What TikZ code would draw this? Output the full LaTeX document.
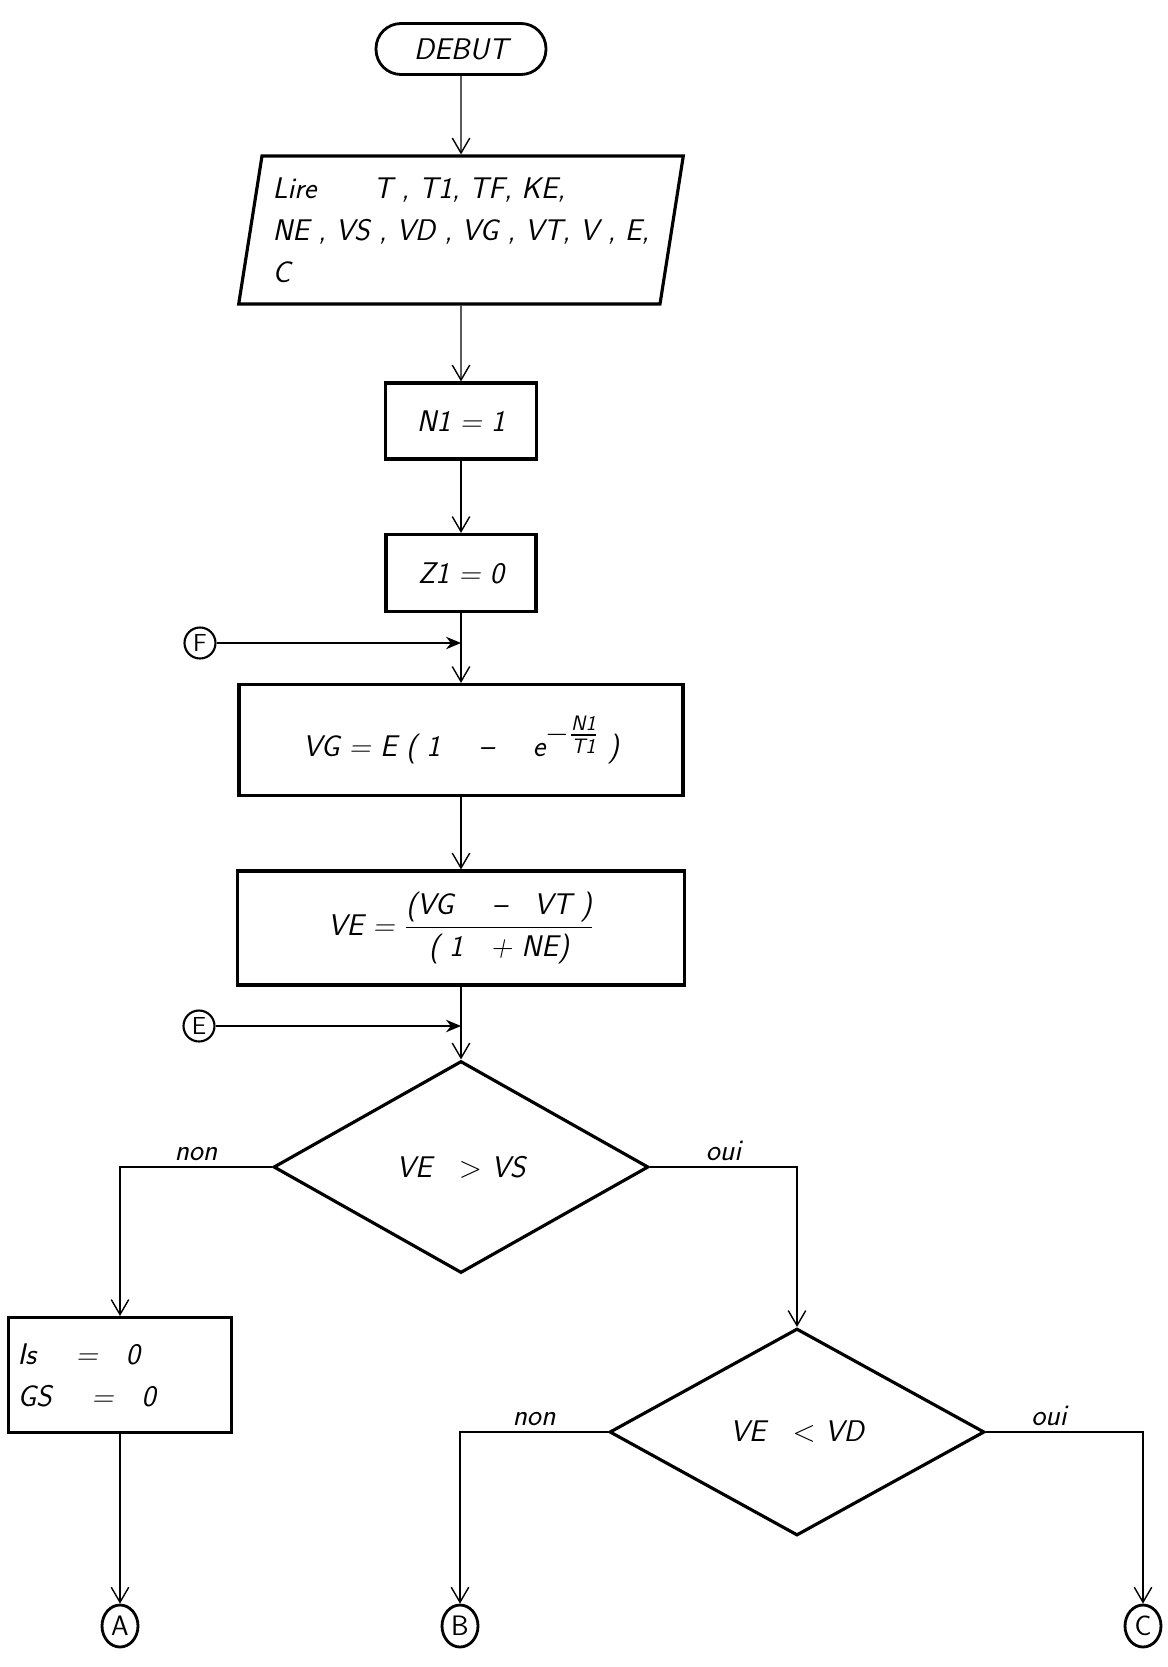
\documentclass[tikz,border=0pt]{standalone}
\usepackage{amsmath}
\usetikzlibrary{arrows.meta,shapes.geometric,positioning,calc}

\tikzset{
  term/.style={draw, line width=1.6pt, rectangle, rounded corners=0.5cm, minimum width=3.4cm, minimum height=1.02cm},
  io/.style={draw, line width=1.8pt, trapezium, trapezium left angle=79, trapezium right angle=101, trapezium stretches=true},
  box/.style={draw, line width=1.8pt, rectangle},
  test/.style={draw, line width=1.8pt, diamond},
  conn/.style={draw, line width=1.2pt, circle, inner sep=0pt, minimum size=0.62cm, font=\fontsize{14}{16}\selectfont\sffamily\upshape},
  ext/.style={draw, line width=1.6pt, ellipse, inner sep=0pt, minimum width=0.72cm, minimum height=0.84cm, font=\fontsize{16}{18}\selectfont\sffamily\upshape},
  link/.style={line width=0.8pt, -{Straight Barb[length=3mm,width=3.5mm]}},
  entry/.style={line width=0.8pt, -{Stealth[length=3mm,width=2.5mm]}}
}

\begin{document}
\begin{tikzpicture}[x=0.02cm, y=-0.02cm, every node/.style={font=\fontsize{17}{24}\selectfont\sffamily\slshape}]
\useasboundingbox (0,0) rectangle (1168,1667);

\node[term] (debut) at (461,49) {DEBUT};
\node[io, minimum width=8.9cm, minimum height=2.96cm, align=left] (lire) at (461,230)
  {Lire \quad\; T , T1, TF, KE,\\ NE , VS , VD , VG , VT, V , E,\\ C};
\node[box, minimum width=3.02cm, minimum height=1.52cm] (n1) at (461,421) {N1 = 1};
\node[box, minimum width=3.0cm, minimum height=1.54cm] (z1) at (461,573) {Z1 = 0};
\node[box, minimum width=8.88cm, minimum height=2.22cm] (vg) at (461,740)
  {VG = E ( 1 \quad -- \quad e$^{\textstyle -\frac{\text{N1}}{\text{T1}}}$ )};
\node[box, minimum width=8.94cm, minimum height=2.28cm] (ve) at (461,928)
  {VE = $\dfrac{\text{(VG \quad -- \; VT )}}{\text{( 1 \; + NE)}}$};
\node[test, minimum width=7.5cm, minimum height=4.24cm] (t1) at (461,1167) {VE \; $>$ VS};
\node[test, minimum width=7.5cm, minimum height=4.14cm] (t2) at (797,1432) {VE \; $<$ VD};
\node[box, minimum width=4.46cm, minimum height=2.3cm, align=left, text width=4.1cm] (is) at (120,1375)
  {Is \quad = \; 0\\ GS \quad = \; 0};

\node[conn] (F) at (200,643) {F};
\node[conn] (E) at (199,1026) {E};
\coordinate (fj) at (461,643);
\coordinate (ej) at (461,1026);
\node[ext] (A) at (120,1626) {A};
\node[ext] (B) at (460,1626) {B};
\node[ext] (C) at (1143,1626) {C};

\draw[link] (debut) -- (lire);
\draw[link] (lire) -- (n1);
\draw[link] (n1) -- (z1);
\draw[link] (z1) -- (vg);
\draw[link] (vg) -- (ve);
\draw[link] (ve) -- (t1);
\draw[entry] (F) -- (fj);
\draw[entry] (E) -- (ej);

% branches
\draw[link] (t1.west) -| (is.north) node[pos=0.25, above] {non};
\draw[link] (t1.east) -| (t2.north) node[pos=0.25, above] {oui};
\draw[link] (is.south) -- (A);
\draw[link] (t2.west) -| (B.north) node[pos=0.25, above] {non};
\draw[link] (t2.east) -| (C.north) node[pos=0.2, above] {oui};
\end{tikzpicture}
\end{document}
